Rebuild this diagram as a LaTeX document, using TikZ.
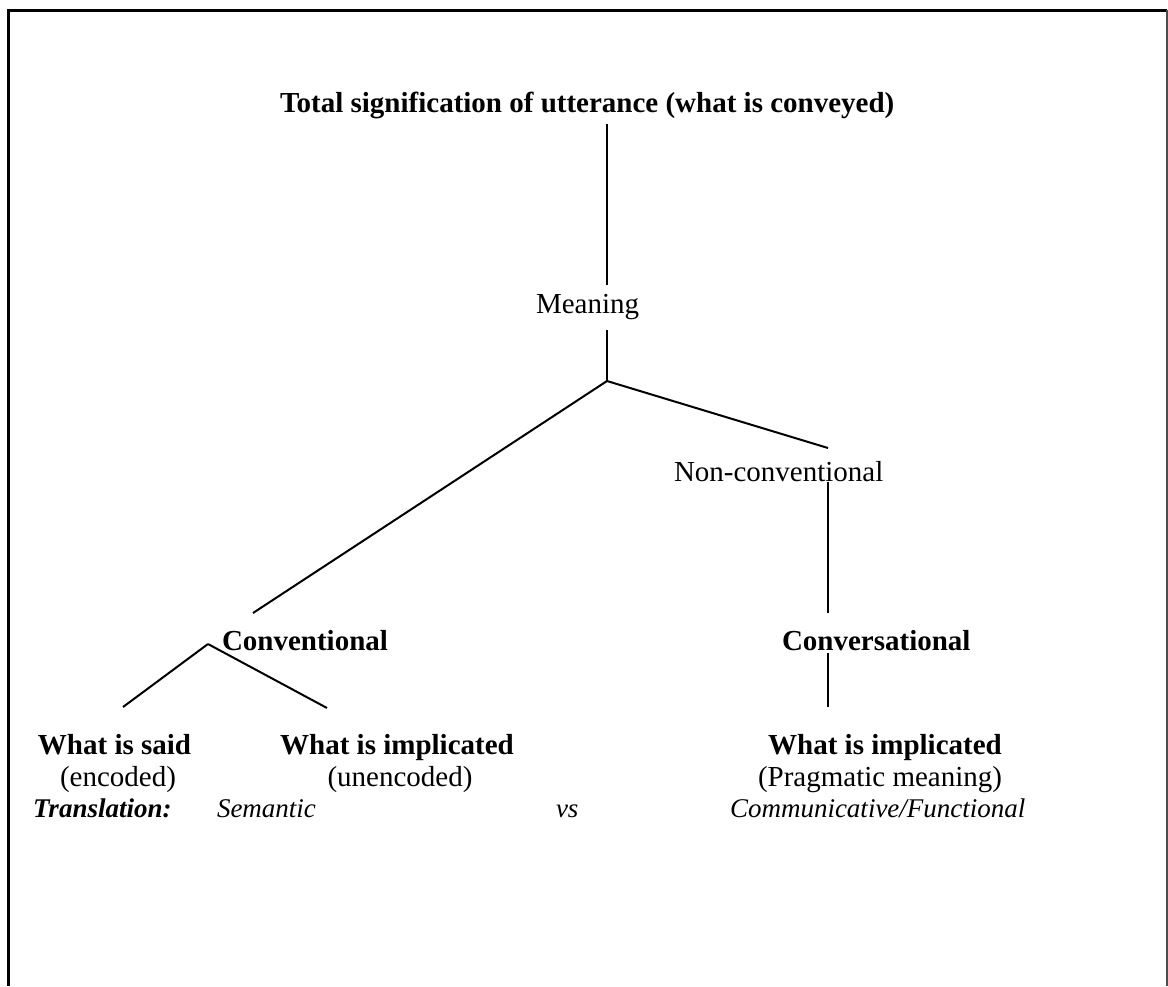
\documentclass[tikz,border=0pt]{standalone}
\usepackage{fontspec}
\setmainfont{Liberation Serif}
\begin{document}
\begin{tikzpicture}[x=0.5pt,y=-0.5pt,
  lbl/.style={inner sep=0pt,outer sep=0pt,anchor=base west,font=\fontsize{14.5pt}{17pt}\selectfont},
  clbl/.style={lbl,anchor=base},
  bl/.style={lbl,font=\fontsize{14.5pt}{17pt}\selectfont\bfseries},
  cbl/.style={clbl,font=\fontsize{14.5pt}{17pt}\selectfont\bfseries},
  it/.style={lbl,font=\fontsize{13.5pt}{16pt}\selectfont\itshape},
  conn/.style={line width=1pt,black},
  frame/.style={line width=1.5pt,black}]
\useasboundingbox (0,0) rectangle (1168,986);
% frame
\coordinate (f1) at (8,986);
\coordinate (f2) at (8,10);
\coordinate (f3) at (1167,10);
\coordinate (f4) at (1167,986);
\draw[frame] (f1) -- (f2) -- (f3);
\draw[line width=0.75pt,black!70] (f3) -- (f4);
% texts
\node[bl] (title) at (280,112) {Total signification of utterance (what is conveyed)};
\node[lbl] (meaning) at (536,313) {Meaning};
\node[lbl] (noncon) at (674,481) {Non-conventional};
\node[bl] (conv) at (222,650) {Conventional};
\node[bl] (convers) at (782,650) {Conversational};
\node[bl] (said) at (38,754) {What is said};
\node[cbl] (impl1) at (397,754) {What is implicated};
\node[cbl] (impl2) at (885,754) {What is implicated};
\node[clbl] (enc) at (118,786) {(encoded)};
\node[clbl] (unenc) at (400,786) {(unencoded)};
\node[clbl] (prag) at (880,786) {(Pragmatic meaning)};
\node[it,font=\fontsize{13.5pt}{16pt}\selectfont\bfseries\itshape] (transl) at (33,817) {Translation:};
\node[it] (sem) at (217,817) {Semantic};
\node[it] (vs) at (556,817) {vs};
\node[it] (comm) at (730,817) {Communicative/Functional};
% connector points
\coordinate (t1) at (607,124);
\coordinate (m1) at (607,285);
\coordinate (m2) at (607,330);
\coordinate (j1) at (607,381);
\coordinate (cv1) at (253,613);
\coordinate (nc1) at (828,448);
\coordinate (nc2) at (828,482);
\coordinate (cs1) at (828,613);
\coordinate (j2) at (208,644);
\coordinate (s1) at (123,707);
\coordinate (i1) at (327,708);
\coordinate (cs2) at (828,653);
\coordinate (i2) at (828,707);
% connectors
\draw[conn] (t1) -- (m1);
\draw[conn] (m2) -- (j1);
\draw[conn] (j1) -- (cv1);
\draw[conn] (j1) -- (nc1);
\draw[conn] (nc2) -- (cs1);
\draw[conn] (j2) -- (s1);
\draw[conn] (j2) -- (i1);
\draw[conn] (cs2) -- (i2);
\end{tikzpicture}
\end{document}
